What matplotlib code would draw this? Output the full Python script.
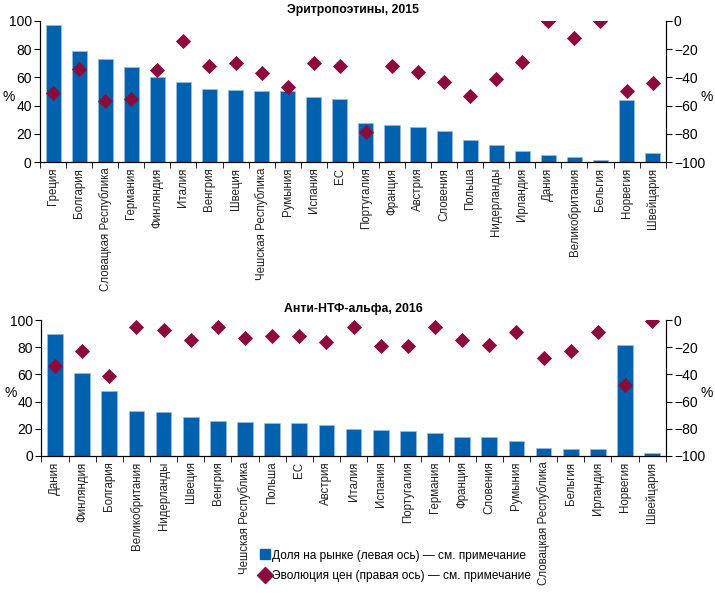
import numpy as np
import matplotlib
matplotlib.use("Agg")
import matplotlib.pyplot as plt
from matplotlib.lines import Line2D

plt.rcParams['font.family'] = ['Liberation Sans', 'DejaVu Sans']
plt.rcParams['font.size'] = 8

# Эритропоэтины, 2015
epo_countries = ["Греция", "Болгария", "Словацкая Республика", "Германия", "Финляндия",
                 "Италия", "Венгрия", "Швеция", "Чешская Республика", "Румыния", "Испания",
                 "ЕС", "Португалия", "Франция", "Австрия", "Словения", "Польша",
                 "Нидерланды", "Ирландия", "Дания", "Великобритания", "Бельгия",
                 "Норвегия", "Швейцария"]
epo_share = [97, 79, 73, 67, 60, 57, 52, 51, 50, 50, 46, 45, 28, 26, 25, 22, 16,
             12, 8, 5, 3.5, 1.5, 44, 6.5]
epo_price = [-51, -34, -57, -55, -35, -14, -32, -30, -37, -47, -30, -32, -79, -32,
             -36, -43, -53, -41, -29, 0, -12, 0, -50, -44]

# Анти-НТФ-альфа, 2016
tnf_countries = ["Дания", "Финляндия", "Болгария", "Великобритания", "Нидерланды",
                 "Швеция", "Венгрия", "Чешская Республика", "Польша", "ЕС", "Австрия",
                 "Италия", "Испания", "Португалия", "Германия", "Франция", "Словения",
                 "Румыния", "Словацкая Республика", "Бельгия", "Ирландия", "Норвегия",
                 "Швейцария"]
tnf_share = [90, 61, 48, 33, 32, 29, 26, 25, 24, 24, 23, 20, 19, 18, 17, 14, 14,
             11, 6, 5, 5, 82, 2]
tnf_price = [-34, -23, -41, -5, -7, -15, -5, -13, -12, -12, -16, -5, -19, -19, -5,
             -15, -18, -9, -28, -23, -9, -48, -1]

bar_color = "#0061ae"
dot_color = "#8c0b3d"
text_color = "#222222"


def draw_panel(ax, countries, share, price, title):
    n = len(countries)
    x = np.arange(n)
    ax.bar(x, share, width=0.58, color=bar_color, edgecolor="#9dbde0", linewidth=0.5, zorder=2)
    ax.set_xlim(-0.5, n - 0.5)
    ax.set_ylim(0, 100)
    ax.set_yticks(range(0, 101, 20))
    ax.set_xticks(x)
    ax.set_xticklabels(countries, rotation=90, color=text_color, fontsize=8.3)
    ax.set_xticks(np.arange(-0.5, n, 1), minor=True)
    ax.tick_params(axis='x', which='major', length=0, pad=4)
    ax.tick_params(axis='x', which='minor', length=4, direction='out')
    ax.tick_params(axis='y', labelsize=10, length=4, direction='out', pad=2)
    ax.spines['top'].set_visible(False)
    ax.set_ylabel("%", rotation=0, fontsize=10, va='center', ha='center')
    ax.yaxis.set_label_coords(-0.05, 0.46)
    ax.set_title(title, fontweight='bold', fontsize=8.8, pad=6)

    ax2 = ax.twinx()
    ax2.scatter(x, price, marker='D', s=60, color=dot_color, zorder=3, linewidths=0)
    ax2.set_ylim(-100, 0)
    ax2.set_yticks(range(-100, 1, 20))
    ax2.set_yticklabels([("\u2212" + str(-v)) if v < 0 else str(v) for v in range(-100, 1, 20)])
    ax2.tick_params(axis='y', labelsize=10, length=4, direction='out', pad=2)
    ax2.spines['top'].set_visible(False)
    ax2.set_ylabel("%", rotation=0, fontsize=10, va='center', ha='center')
    ax2.yaxis.set_label_coords(1.065, 0.46)
    return ax2


fig = plt.figure(figsize=(7.15, 5.96), dpi=100)
ax_top = fig.add_axes([0.056, 0.728, 0.875, 0.237])
ax_bot = fig.add_axes([0.058, 0.235, 0.873, 0.228])

draw_panel(ax_top, epo_countries, epo_share, epo_price, "Эритропоэтины, 2015")
draw_panel(ax_bot, tnf_countries, tnf_share, tnf_price, "Анти-НТФ-альфа, 2016")

handles = [
    Line2D([], [], marker='s', linestyle='none', color=bar_color, markersize=7.5),
    Line2D([], [], marker='D', linestyle='none', color=dot_color, markersize=8),
]
labels = ["Доля на рынке (левая ось) — см. примечание",
          "Эволюция цен (правая ось) — см. примечание"]
fig.legend(handles, labels, loc='upper left', bbox_to_anchor=(0.364, 0.078),
           frameon=False, handlelength=0.8, handletextpad=0.15, labelspacing=0.75,
           borderaxespad=0, borderpad=0, fontsize=8.6)

fig.savefig("out.png", dpi=100)
